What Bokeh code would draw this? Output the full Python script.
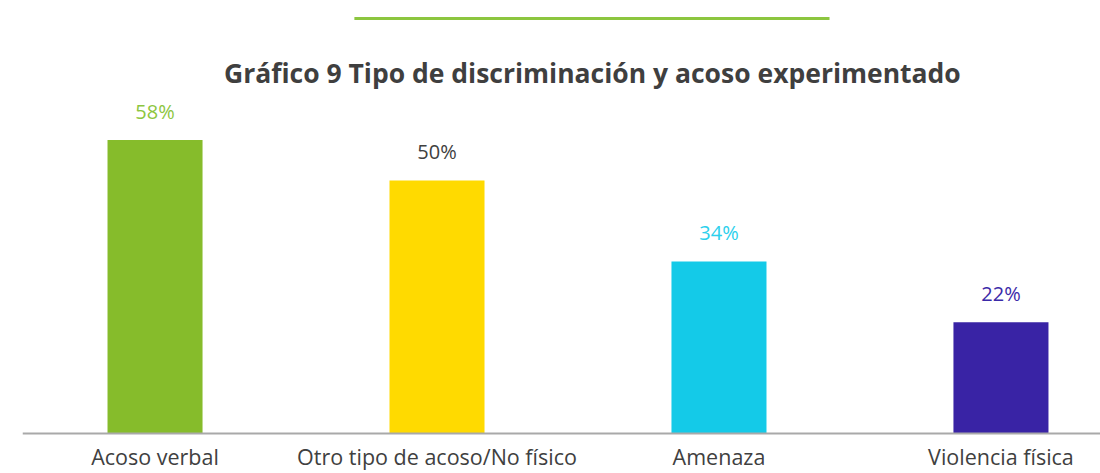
from bokeh.plotting import figure
from bokeh.models import Range1d, ColumnDataSource, Span
from bokeh.core.properties import value
from bokeh.embed import file_html
from bokeh.resources import INLINE

# ---- data ----
categories = ["Acoso verbal", "Otro tipo de acoso/No físico", "Amenaza", "Violencia física"]
percentages = [58, 50, 34, 22]
bar_colors = ["#86BC2B", "#FFDA00", "#14CAE8", "#3923A5"]
label_colors = ["#8DC63F", "#404040", "#2BD0EC", "#3B2AA8"]
title_text = "Gráfico 9 Tipo de discriminación y acoso experimentado"

FONT = "Open Sans"
PX = 5.06  # pixels per percentage point
xs = list(range(len(categories)))
label_y = [v + 29 / PX for v in percentages]
cat_y = [-23 / PX] * len(categories)

src = ColumnDataSource(dict(x=xs, top=percentages, color=bar_colors,
                            ly=label_y, lc=label_colors,
                            lt=[f"{v}%" for v in percentages],
                            cy=cat_y, cat=categories))

p = figure(width=1100, height=473, output_backend="svg", toolbar_location=None,
           x_range=Range1d(-0.47, 3.353), y_range=Range1d(-40 / PX, 433 / PX),
           min_border_left=22, min_border_right=0, min_border_top=0, min_border_bottom=0)

p.vbar(x="x", top="top", bottom=0, width=0.337, color="color", line_color=None, source=src)

# baseline
p.add_layout(Span(location=0, dimension="width", line_color="#A9A9A9", line_width=2))

p.text(x="x", y="ly", text="lt", text_color="lc", source=src,
       text_font=value(FONT), text_font_size="20px",
       text_align="center", text_baseline="alphabetic")

p.text(x="x", y="cy", text="cat", source=src, text_color="#404040",
       text_font=value(FONT), text_font_size="21.5px",
       text_align="center", text_baseline="alphabetic")

# title and decorative line
p.segment(x0=[0.707], y0=[415 / PX], x1=[2.392], y1=[415 / PX], line_color="#8CC63F", line_width=3)
p.text(x=[1.551], y=[361 / PX], text=[title_text], text_font=value(FONT),
       text_font_size="26.5px", text_font_style="bold", text_color="#3F3F3F",
       text_align="center", text_baseline="alphabetic")

p.xaxis.visible = False
p.yaxis.visible = False
p.xgrid.grid_line_color = None
p.ygrid.grid_line_color = None
p.outline_line_color = None
p.background_fill_color = "white"
p.border_fill_color = "white"

open("out.html", "w").write(file_html(p, INLINE))
